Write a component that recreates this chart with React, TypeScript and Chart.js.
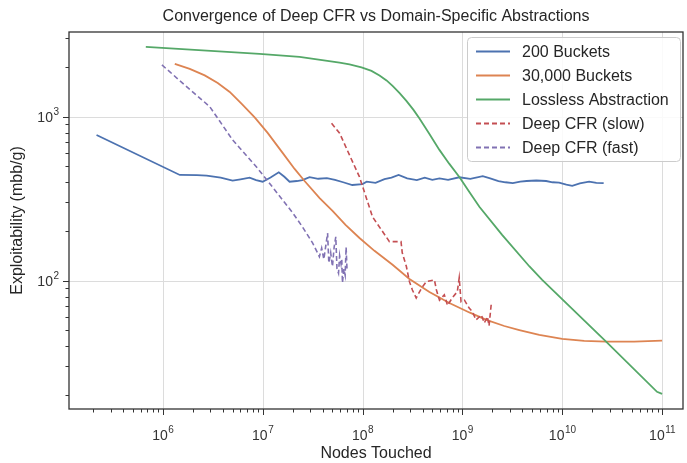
import React, { useEffect, useRef } from "react";
import { Chart, registerables } from "chart.js";

Chart.register(...registerables);

const FONT = '"Liberation Sans", Arial, Helvetica, sans-serif';

// ---- data (nodes touched vs exploitability in mbb/g) ----
const bucket200X = [2.17e5, 1.48e6, 2.2e6, 2.75e6, 3.8e6, 5.0e6, 6.0e6, 7.4e6, 8.6e6, 1.0e7, 1.2e7, 1.45e7, 1.65e7, 1.86e7, 2.2e7, 2.5e7, 2.95e7, 3.6e7, 4.4e7, 5.3e7, 6.4e7, 7.9e7, 1.0e8, 1.1e8, 1.35e8, 1.66e8, 1.95e8, 2.3e8, 2.8e8, 3.5e8, 4.2e8, 5.0e8, 5.9e8, 7.2e8, 9.3e8, 1.2e9, 1.6e9, 1.9e9, 2.3e9, 2.7e9, 3.2e9, 3.8e9, 4.4e9, 5.5e9, 6.9e9, 8.0e9, 9.3e9, 1.1e10, 1.26e10, 1.5e10, 1.86e10, 2.2e10, 2.6e10];
const bucket200Y = [773, 441, 440, 437, 425, 407, 415, 425, 410, 401, 425, 458, 430, 401, 405, 410, 428, 418, 422, 412, 398, 383, 388, 401, 395, 416, 425, 441, 420, 410, 425, 412, 420, 412, 427, 418, 434, 420, 405, 398, 393, 402, 405, 408, 405, 398, 396, 385, 378, 392, 401, 395, 393];

const bucket30kX = [1.318e6, 1.862e6, 2.63e6, 3.55e6, 4.68e6, 6.17e6, 8.32e6, 1.122e7, 1.585e7, 2.09e7, 2.63e7, 3.72e7, 5.01e7, 6.76e7, 9.33e7, 1.318e8, 2.0e8, 2.95e8, 4.68e8, 7.41e8, 1.175e9, 1.738e9, 2.63e9, 3.72e9, 5.89e9, 1.0e10, 1.66e10, 2.75e10, 5.25e10, 1.0e11];
const bucket30kY = [2096, 1954, 1784, 1605, 1414, 1195, 989, 796, 601, 480, 405, 319, 266, 219, 182, 152, 125, 102.4, 85.3, 73.1, 64.0, 57.6, 52.9, 50.0, 46.7, 44.1, 42.9, 42.5, 42.5, 43.05];

const losslessX = [6.76e5, 9.3e6, 2.34e7, 5.89e7, 7.41e7, 9.77e7, 1.23e8, 1.48e8, 1.74e8, 2.0e8, 2.34e8, 2.75e8, 3.24e8, 3.72e8, 4.68e8, 5.89e8, 7.41e8, 9.33e8, 1.175e9, 1.48e9, 2.5e9, 4.7e9, 6.3e9, 2.75e10, 8.9e10, 1.0e11];
const losslessY = [2661, 2410, 2312, 2135, 2081, 1995, 1900, 1784, 1662, 1539, 1395, 1247, 1099, 975, 784, 627, 515, 429, 347.5, 282, 190, 122, 101, 42.5, 21, 20.4];

const deepSlowX = [4.9e7, 5.9e7, 7.4e7, 9.3e7, 1.26e8, 1.86e8, 2.43e8, 2.5e8, 2.75e8, 2.95e8, 3.16e8, 3.45e8, 3.9e8, 4.35e8, 5.25e8, 5.5e8, 5.9e8, 6.6e8, 7.1e8, 7.9e8, 8.9e8, 9.3e8, 9.7e8, 1.05e9, 1.17e9, 1.26e9, 1.37e9, 1.55e9, 1.66e9, 1.78e9, 1.85e9, 1.95e9];
const deepSlowY = [911, 792, 584, 431, 245, 173, 173, 148, 122, 98.6, 87.7, 78.4, 90, 98.6, 101, 87.7, 76, 82, 70.6, 78.4, 85.7, 104, 74.4, 76, 68, 64.7, 57.6, 61.8, 55.2, 60.3, 53, 72.8];

const deepFastX = [9.8e5, 1.66e6, 2.95e6, 5.0e6, 8.6e6, 1.17e7, 1.58e7, 2.0e7, 2.5e7, 3.16e7, 3.7e7, 3.9e7, 4.1e7, 4.3e7, 4.47e7, 4.6e7, 4.8e7, 5.0e7, 5.2e7, 5.4e7, 5.55e7, 5.75e7, 5.9e7, 6.1e7, 6.2e7, 6.3e7, 6.5e7, 6.7e7, 6.85e7, 7.0e7];
const deepFastY = [2066, 1559, 1151, 721, 496, 393, 311, 259, 213, 170, 140, 158, 135, 165, 195, 128, 148, 122, 160, 185, 118, 111, 142, 126, 134, 97, 118, 108, 160, 116];

const seriesNames = ["200 Buckets", "30,000 Buckets", "Lossless Abstraction", "Deep CFR (slow)", "Deep CFR (fast)"];
const seriesColors = ["#4C72B0", "#DD8452", "#55A868", "#C44E52", "#8172B3"];

// axis ticks
const xTickExponents = [6, 7, 8, 9, 10, 11];
const yTickExponents = [2, 3];
const xLimits = [1.15e5, 1.62e11];
const yLimits = [16.5, 3281];

const TITLE = "Convergence of Deep CFR vs Domain-Specific Abstractions";
const X_TITLE = "Nodes Touched";
const Y_TITLE = "Exploitability (mbb/g)";

const DASH = [5, 3];

function pairs(xs: number[], ys: number[]) {
  return xs.map((x, i) => ({ x, y: ys[i] }));
}

function minorTicks(min: number, max: number) {
  const out: number[] = [];
  const lo = Math.floor(Math.log10(min));
  const hi = Math.ceil(Math.log10(max));
  for (let e = lo; e <= hi; e++) {
    for (let m = 2; m <= 9; m++) {
      const v = m * Math.pow(10, e);
      if (v >= min && v <= max) out.push(v);
    }
  }
  return out;
}

const decorPlugin = {
  id: "decor",
  beforeDatasetsDraw(chart: any) {
    const { ctx, chartArea: a, scales } = chart;
    const xs = scales.x;
    const ys = scales.y;
    ctx.save();
    ctx.strokeStyle = "#dcdcdc";
    ctx.lineWidth = 1;
    xTickExponents.forEach((e) => {
      const px = Math.round(xs.getPixelForValue(Math.pow(10, e))) + 0.5;
      ctx.beginPath();
      ctx.moveTo(px, a.top);
      ctx.lineTo(px, a.bottom);
      ctx.stroke();
    });
    yTickExponents.forEach((e) => {
      const py = Math.round(ys.getPixelForValue(Math.pow(10, e))) + 0.5;
      ctx.beginPath();
      ctx.moveTo(a.left, py);
      ctx.lineTo(a.right, py);
      ctx.stroke();
    });
    ctx.restore();
  },
  afterDraw(chart: any) {
    const { ctx, chartArea: a, scales } = chart;
    const xs = scales.x;
    const ys = scales.y;
    const ink = "#333333";
    ctx.save();

    // frame
    ctx.strokeStyle = ink;
    ctx.lineWidth = 1.3;
    ctx.strokeRect(a.left, a.top, a.right - a.left, a.bottom - a.top);

    // tick marks
    ctx.lineWidth = 1;
    ctx.beginPath();
    xTickExponents.forEach((e) => {
      const px = Math.round(xs.getPixelForValue(Math.pow(10, e))) + 0.5;
      ctx.moveTo(px, a.bottom);
      ctx.lineTo(px, a.bottom + 6);
    });
    minorTicks(xLimits[0], xLimits[1]).forEach((v) => {
      const px = Math.round(xs.getPixelForValue(v)) + 0.5;
      ctx.moveTo(px, a.bottom);
      ctx.lineTo(px, a.bottom + 3.5);
    });
    yTickExponents.forEach((e) => {
      const py = Math.round(ys.getPixelForValue(Math.pow(10, e))) + 0.5;
      ctx.moveTo(a.left, py);
      ctx.lineTo(a.left - 6, py);
    });
    minorTicks(yLimits[0], yLimits[1]).forEach((v) => {
      const py = Math.round(ys.getPixelForValue(v)) + 0.5;
      ctx.moveTo(a.left, py);
      ctx.lineTo(a.left - 3.5, py);
    });
    ctx.stroke();

    // tick labels: "10" with a raised exponent
    const baseFont = `14px ${FONT}`;
    const supFont = `10px ${FONT}`;
    ctx.fillStyle = ink;
    ctx.textBaseline = "alphabetic";
    ctx.textAlign = "left";
    xTickExponents.forEach((e) => {
      const px = xs.getPixelForValue(Math.pow(10, e));
      ctx.font = baseFont;
      const wb = ctx.measureText("10").width;
      ctx.font = supFont;
      const ws = ctx.measureText(String(e)).width;
      const start = px - (wb + ws) / 2;
      const base = a.bottom + 31;
      ctx.font = baseFont;
      ctx.fillText("10", start, base);
      ctx.font = supFont;
      ctx.fillText(String(e), start + wb + 0.5, base - 7);
    });
    yTickExponents.forEach((e) => {
      const py = ys.getPixelForValue(Math.pow(10, e));
      ctx.font = baseFont;
      const wb = ctx.measureText("10").width;
      ctx.font = supFont;
      const ws = ctx.measureText(String(e)).width;
      const end = a.left - 10;
      const start = end - wb - ws - 0.5;
      const base = py + 5;
      ctx.font = baseFont;
      ctx.fillText("10", start, base);
      ctx.font = supFont;
      ctx.fillText(String(e), start + wb + 0.5, base - 7);
    });

    // title and axis titles
    ctx.textAlign = "center";
    ctx.textBaseline = "middle";
    ctx.fillStyle = "#262626";
    ctx.font = `16px ${FONT}`;
    ctx.fillText(TITLE, (a.left + a.right) / 2, 17);
    ctx.font = `16px ${FONT}`;
    ctx.fillText(X_TITLE, (a.left + a.right) / 2, a.bottom + 45);
    ctx.save();
    ctx.translate(18, (a.top + a.bottom) / 2);
    ctx.rotate(-Math.PI / 2);
    ctx.fillText(Y_TITLE, 0, 0);
    ctx.restore();

    // legend box
    const bx = 467.5, by = 37.5, bw = 213, bh = 124, r = 4;
    ctx.beginPath();
    ctx.moveTo(bx + r, by);
    ctx.lineTo(bx + bw - r, by);
    ctx.arcTo(bx + bw, by, bx + bw, by + r, r);
    ctx.lineTo(bx + bw, by + bh - r);
    ctx.arcTo(bx + bw, by + bh, bx + bw - r, by + bh, r);
    ctx.lineTo(bx + r, by + bh);
    ctx.arcTo(bx, by + bh, bx, by + bh - r, r);
    ctx.lineTo(bx, by + r);
    ctx.arcTo(bx, by, bx + r, by, r);
    ctx.closePath();
    ctx.fillStyle = "rgba(255,255,255,0.85)";
    ctx.fill();
    ctx.strokeStyle = "#cccccc";
    ctx.lineWidth = 1;
    ctx.stroke();

    ctx.textAlign = "left";
    ctx.font = `16px ${FONT}`;
    seriesNames.forEach((name, i) => {
      const yy = 51.5 + i * 24;
      ctx.strokeStyle = seriesColors[i];
      ctx.lineWidth = 1.8;
      ctx.setLineDash(i >= 3 ? DASH : []);
      ctx.beginPath();
      ctx.moveTo(476, yy);
      ctx.lineTo(510, yy);
      ctx.stroke();
      ctx.setLineDash([]);
      ctx.fillStyle = "#262626";
      ctx.fillText(name, 522, yy + 1);
    });

    ctx.restore();
  },
};

export default function App() {
  const canvasRef = useRef<HTMLCanvasElement | null>(null);

  useEffect(() => {
    const canvas = canvasRef.current;
    if (!canvas) return;
    const xsList = [bucket200X, bucket30kX, losslessX, deepSlowX, deepFastX];
    const ysList = [bucket200Y, bucket30kY, losslessY, deepSlowY, deepFastY];
    const chart = new Chart(canvas, {
      type: "line",
      data: {
        datasets: seriesNames.map((label, i) => ({
          label,
          data: pairs(xsList[i], ysList[i]),
          borderColor: seriesColors[i],
          backgroundColor: seriesColors[i],
          borderWidth: i >= 3 ? 1.6 : 1.8,
          borderDash: i >= 3 ? DASH : [],
          pointRadius: 0,
          tension: 0,
          fill: false,
          order: 5 - i,
        })),
      },
      options: {
        responsive: false,
        animation: false,
        parsing: true,
        layout: { padding: { left: 69, top: 32, right: 4, bottom: 54 } },
        plugins: {
          legend: { display: false },
          title: { display: false },
          tooltip: { enabled: false },
        },
        scales: {
          x: {
            type: "logarithmic",
            min: xLimits[0],
            max: xLimits[1],
            bounds: "data",
            grid: { display: false, drawTicks: false },
            border: { display: false },
            ticks: { display: false },
          },
          y: {
            type: "logarithmic",
            min: yLimits[0],
            max: yLimits[1],
            bounds: "data",
            grid: { display: false, drawTicks: false },
            border: { display: false },
            ticks: { display: false },
          },
        },
      },
      plugins: [decorPlugin],
    });
    return () => chart.destroy();
  }, []);

  return (
    <div style={{ position: "fixed", left: 0, top: 0, width: 687, height: 463, background: "#fff" }}>
      <canvas ref={canvasRef} width={687} height={463} style={{ display: "block" }} />
    </div>
  );
}
